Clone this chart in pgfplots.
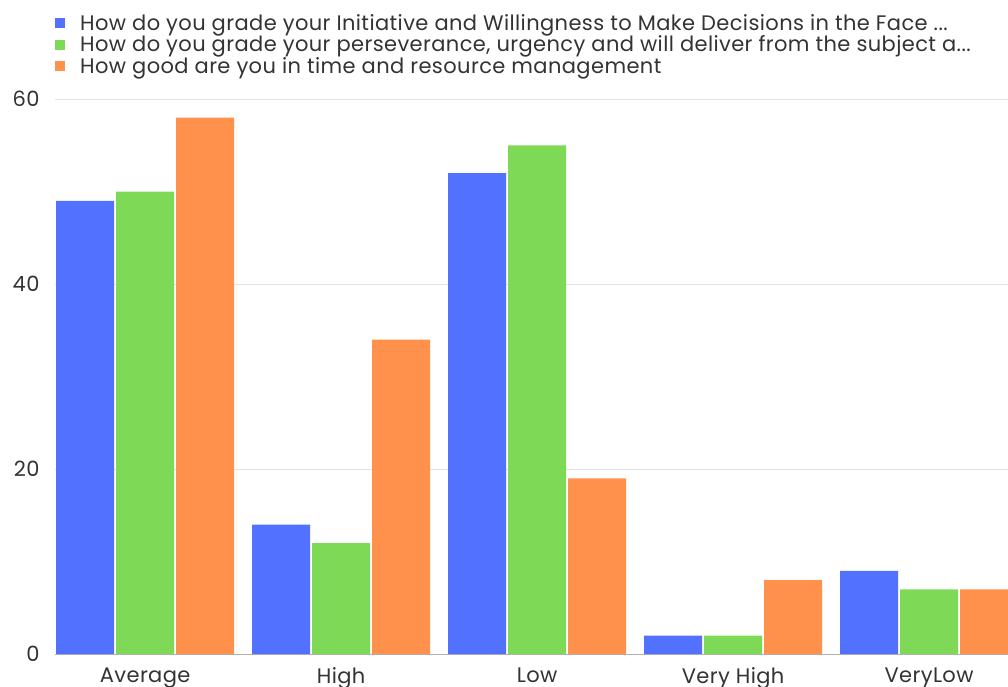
\documentclass[border=0pt]{standalone}
\usepackage{pgfplots}
\pgfplotsset{compat=1.18}
\usepackage{fontspec}
\setmainfont{Poppins}[LetterSpace=1.9]

\definecolor{cblue}{HTML}{5271FF}
\definecolor{cgreen}{HTML}{7ED957}
\definecolor{corange}{HTML}{FF914D}
\definecolor{txt}{HTML}{333333}
\definecolor{gridc}{HTML}{E2E2E2}

\begin{document}
\begin{tikzpicture}
\begin{axis}[
  scale only axis,
  width=953pt, height=555pt,
  ybar=2pt, bar width=58pt,
  xmin=-0.46, xmax=4.403,
  ymin=0, ymax=60,
  xtick={0,1,2,3,4},
  xticklabels={Average,High,Low,Very High,VeryLow},
  ytick={0,20,40,60},
  axis x line*=bottom, axis y line*=left,
  x axis line style={draw=gray!60, line width=1pt, -},
  y axis line style={draw=none},
  major tick length=0pt,
  ymajorgrids, grid style={gridc, line width=1pt},
  /pgf/number format/assume math mode=true,
  tick label style={font=\fontsize{21}{24}\selectfont, text=txt},
  yticklabel style={xshift=-12pt},
  xticklabel style={yshift=-10pt},
  legend style={at={(0,1)}, anchor=south west, xshift=0pt, yshift=22pt,
    draw=none, fill=none, font=\fontsize{21}{23}\selectfont, text=txt,
    row sep=0pt, inner sep=0pt, column sep=13pt},
  legend cell align=left,
  legend image code/.code={\fill[#1] (0pt,-5pt) rectangle (10pt,5pt);},
  every axis plot/.append style={draw=none},
]
\addplot[fill=cblue] coordinates {(0,49) (1,14) (2,52) (3,2) (4,9)};
\addlegendentry{How do you grade your Initiative and Willingness to Make Decisions in the Face ...}
\addplot[fill=cgreen] coordinates {(0,50) (1,12) (2,55) (3,2) (4,7)};
\addlegendentry{How do you grade your perseverance, urgency and will deliver from the subject a...}
\addplot[fill=corange] coordinates {(0,58) (1,34) (2,19) (3,8) (4,7)};
\addlegendentry{How good are you in time and resource management}
\end{axis}
\pgfresetboundingbox
\path[use as bounding box] (-55pt,-32pt) rectangle (953pt,654pt);
\end{tikzpicture}
\end{document}
